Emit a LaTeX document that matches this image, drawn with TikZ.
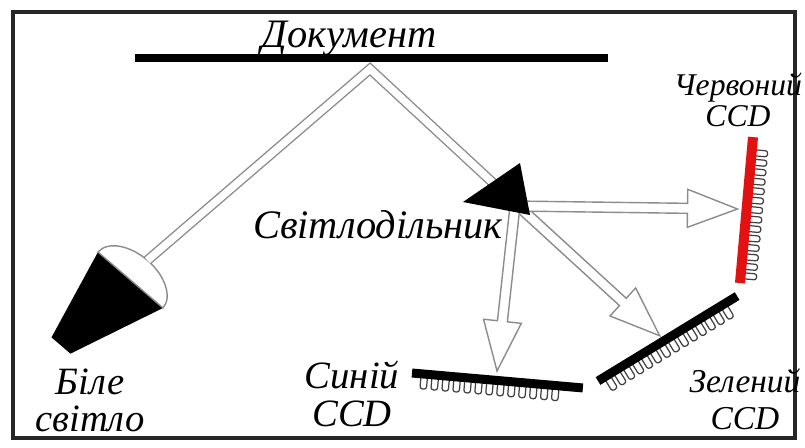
\documentclass[tikz,border=0pt]{standalone}
\usepackage{fontspec}
\setmainfont{Liberation Serif}
\usetikzlibrary{calc,positioning}

\definecolor{ccdred}{RGB}{226,18,18}

\tikzset{
  beam/.style={draw=black!45, line width=0.8pt, double=white, double distance=4.2pt},
  beamhead/.style={draw=black!45, line width=0.8pt, fill=white},
  pin/.style={draw=black!75, line width=0.7pt, fill=white, rounded corners=1.4pt},
  lbl/.style={align=center, inner sep=0pt},
}

% hollow light arrow from #1 to #2
\newcommand{\beamto}[2]{%
  \draw[beamhead] let \p1=($(#2)-(#1)$), \n1={atan2(\y1,\x1)}, \n2={veclen(\x1,\y1)} in
    {[shift={(#1)}, rotate=\n1]
      (0,-0.1cm) -- (\n2-1cm,-0.1cm) -- (\n2-1cm,-0.38cm) -- (\n2,0cm)
      -- (\n2-1cm,0.38cm) -- (\n2-1cm,0.1cm) -- (0,0.1cm) -- cycle};}

\begin{document}
\begin{tikzpicture}
    \useasboundingbox (0,0) rectangle (16.1,-8.94);

    % Frame
    \draw [line width=2.2pt, black!85] (0.26,-0.24) rectangle (15.9,-8.76);

    % Document
    \draw [line width=4.5pt] (2.7,-1.16) -- (12.16,-1.16);
    \node [lbl, font=\itshape\fontsize{23}{24}\selectfont, anchor=base] (doclabel) at (6.98,-0.94) {Документ};

    % Beam points
    \coordinate (apex) at (7.4,-1.38);
    \coordinate (prismin) at (10.1,-3.88);
    \coordinate (split) at (10.3,-4.12);
    \coordinate (redtip) at (14.75,-4.18);
    \coordinate (bluetip) at (9.94,-7.42);
    \coordinate (greentip) at (13.2,-6.72);

    % Red CCD
    \begin{scope}[shift={(14.8,-5.66)}, rotate=84.9]
        \foreach \t in {0.15,0.34,...,2.8}
            \draw [pin] (\t-0.06,0) rectangle (\t+0.06,-0.32);
        \fill [ccdred] (0,-0.1) rectangle (2.93,0.1);
    \end{scope}

    % Green CCD
    \begin{scope}[shift={(11.96,-7.62)}, rotate=31.4]
        \foreach \t in {0.2,0.41,...,3.1}
            \draw [pin] (\t-0.065,0) rectangle (\t+0.065,-0.32);
        \fill (0,-0.09) rectangle (3.26,0.09);
    \end{scope}

    % Blue CCD
    \begin{scope}[shift={(8.24,-7.46)}, rotate=-5]
        \foreach \t in {0.25,0.47,...,3.1}
            \draw [pin] (\t-0.065,0) rectangle (\t+0.065,-0.3);
        \fill (0,-0.09) rectangle (3.43,0.09);
    \end{scope}

    % Lamp
    \begin{scope}[shift={(2.61,-5.6)}, rotate=-40.7]
        \fill (-0.858,0) -- (0.858,0) -- (0.05,-1.9) -- (-0.45,-1.9) -- cycle;
        \draw [fill=white, draw=black!45, line width=0.8pt] (0.858,0)
            arc [start angle=0, end angle=180, x radius=0.858, y radius=0.52] -- cycle;
        \coordinate (lamp) at (0,0.52);
    \end{scope}

    % Light beams
    \draw [beam] (lamp) -- (apex) -- (prismin);
    \beamto{prismin}{greentip}
    \beamto{split}{redtip}
    \beamto{split}{bluetip}

    % Beam splitter
    \fill (9.26,-4.04) -- (10.4,-3.26) -- (10.6,-4.3) -- cycle;

    % Labels
    \node [lbl, font=\itshape\fontsize{22}{21}\selectfont] (lamplabel) at (1.8,-8.0) {Біле\\світло};
    \node [lbl, font=\itshape\fontsize{23}{24}\selectfont] (splitlabel) at (7.56,-4.5) {Світлодільник};
    \node [lbl, font=\itshape\fontsize{22}{22}\selectfont] (bluelabel) at (7.04,-7.88) {Синій\\CCD};
    \node [lbl, font=\itshape\fontsize{19}{21}\selectfont] (greenlabel) at (14.9,-7.98) {Зелений\\CCD};
    \node [lbl, font=\itshape\fontsize{18}{18}\selectfont] (redlabel) at (14.76,-2.0) {Червоний\\CCD};
\end{tikzpicture}
\end{document}
